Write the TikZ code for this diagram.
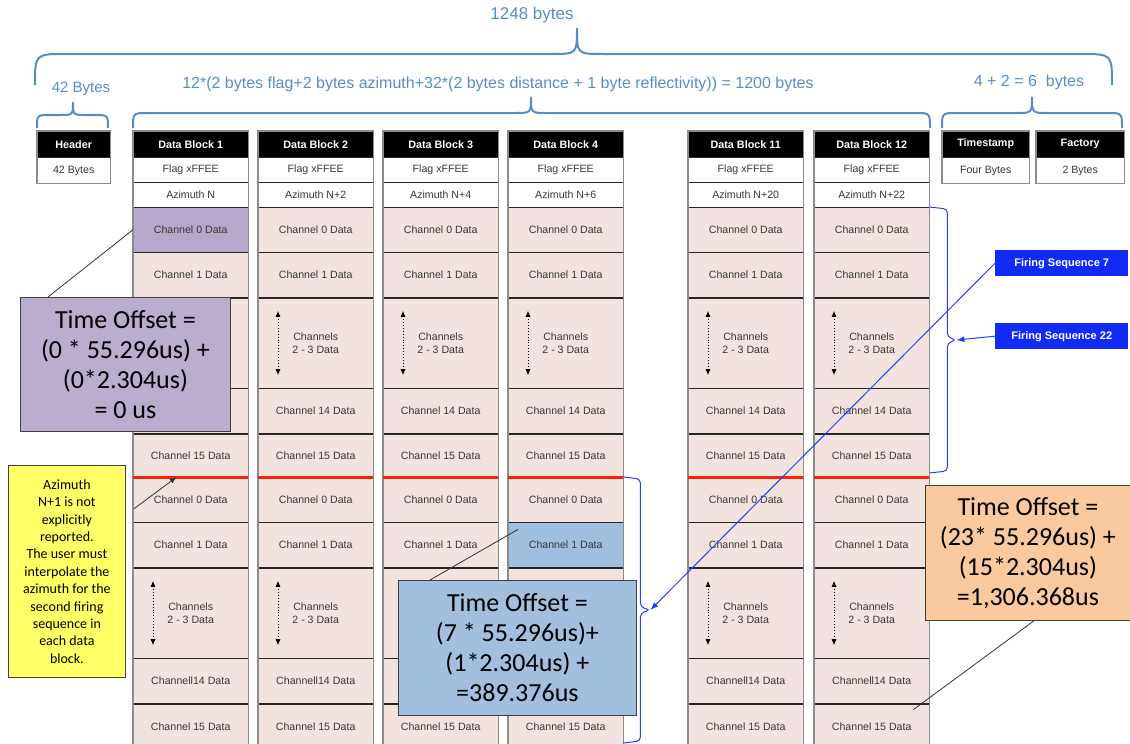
\documentclass[tikz,border=0pt]{standalone}
\usepackage{fontspec}
\setmainfont{Liberation Sans}
\newfontfamily\calfont{Carlito}
\usetikzlibrary{positioning,calc,arrows.meta}
\definecolor{cellpink}{RGB}{242,227,222}
\definecolor{purplecell}{RGB}{181,168,202}
\definecolor{purplebox}{RGB}{186,173,206}
\definecolor{bluecell}{RGB}{160,190,222}
\definecolor{bluebox}{RGB}{162,191,222}
\definecolor{orangebox}{RGB}{250,201,158}
\definecolor{notey}{RGB}{255,255,102}
\definecolor{fsblue}{RGB}{18,42,245}
\definecolor{bytecol}{RGB}{88,140,200}
\definecolor{sepred}{RGB}{255,32,0}
\definecolor{seqcol}{RGB}{40,62,255}
% curly brace over a byte range: x left, x right, x tip, y ends, y line, y tip
\newcommand\bytebrace[6]{\draw[bytebr] (#1,#4) .. controls (#1,#5) .. ({#1+#4-#5},#5) -- ({#3-(#5-#6)},#5) .. controls (#3,#5) .. (#3,#6) .. controls (#3,#5) .. ({#3+(#5-#6)},#5) -- ({#2-(#4-#5)},#5) .. controls (#2,#5) .. (#2,#4);}
\begin{document}
\begin{tikzpicture}[x=1pt, y=-1pt,
  blockhead/.style={draw=black, fill=black, text=white, font=\fontsize{10.8}{12}\selectfont\bfseries, minimum width=115pt, minimum height=26pt, inner sep=0pt, anchor=north west},
  blockrow/.style={draw=black!85, fill=white, text=black!78, font=\fontsize{10.6}{12}\selectfont, minimum width=115pt, minimum height=25pt, inner sep=0pt, anchor=north west},
  chan/.style={blockrow, fill=cellpink, minimum height=45pt, align=center, font=\fontsize{10.6}{13}\selectfont},
  colframe/.style={draw=black!45, line width=1.2pt},
  sepline/.style={draw=sepred, line width=3pt},
  dotarrow/.style={dotted, line width=0.9pt, {Latex[length=6pt,width=5pt]}-{Latex[length=6pt,width=5pt]}},
  offset/.style={draw=black!75, line width=0.8pt, font=\calfont\fontsize{26}{30}\selectfont, align=center, inner sep=0pt, anchor=north west},
  note/.style={draw=black!75, line width=0.8pt, fill=notey, font=\calfont\fontsize{14}{17.4}\selectfont, align=center, minimum width=117pt, minimum height=212pt, inner sep=0pt, anchor=north west},
  fireseq/.style={fill=fsblue, text=white, font=\fontsize{11}{13}\selectfont\bfseries, minimum width=133pt, minimum height=26pt, inner sep=0pt, anchor=north west},
  callline/.style={draw=black!80, line width=0.8pt},
  seqbrace/.style={draw=seqcol, line width=1pt, rounded corners=4pt},
  seqarrow/.style={draw=seqcol, line width=1pt, -{Latex[length=8pt,width=6pt]}},
  bytebr/.style={draw=bytecol, line width=2pt},
  bytelbl/.style={text=bytecol, font=\fontsize{16}{19}\selectfont}
]
\useasboundingbox (0,0) rectangle (1130,744);

% byte counts on top
\bytebrace{35}{1112}{577}{85}{54}{28}
\bytebrace{37}{108}{73}{128}{115}{102}
\bytebrace{133}{930}{531}{128}{113}{97}
\bytebrace{942}{1122}{1032}{128}{113}{97}
\node[bytelbl, font=\fontsize{17}{19}\selectfont] (total) at (532,15) {1248 bytes};
\node[bytelbl, font=\fontsize{15}{19}\selectfont] (hdrBytes) at (81,89) {42 Bytes};
\node[bytelbl] (dataBytes) at (498,84) {12*(2 bytes flag+2 bytes azimuth+32*(2 bytes distance + 1 byte reflectivity)) = 1200 bytes};
\node[bytelbl] (tailBytes) at (1029,82) {4 + 2 = 6~ bytes};

% header, timestamp, factory
\node[blockhead, minimum width=73pt] (hdr) at (37,131) {Header};
\node[blockrow, minimum width=73pt, minimum height=26pt, below=0pt of hdr] (hdrSize) {42 Bytes};
\node[blockhead, minimum width=87pt] (ts) at (942,131) {Timestamp};
\node[blockrow, minimum width=87pt, minimum height=26pt, below=0pt of ts] (tsSize) {Four Bytes};
\node[blockhead, minimum width=88pt] (fac) at (1036,131) {Factory};
\node[blockrow, minimum width=88pt, minimum height=26pt, below=0pt of fac] (facSize) {2 Bytes};
\draw[colframe] (hdr.north west) rectangle (hdrSize.south east);
\draw[colframe] (ts.north west) rectangle (tsSize.south east);
\draw[colframe] (fac.north west) rectangle (facSize.south east);

% data blocks
\foreach \n/\x/\az/\fa/\fb in {1/133/N/purplecell/cellpink, 2/258/N+2/cellpink/cellpink, 3/383/N+4/cellpink/cellpink, 4/508/N+6/cellpink/bluecell, 11/688/N+20/cellpink/cellpink, 12/814/N+22/cellpink/cellpink} {
  \node[blockhead] (b\n-head) at (\x,131) {Data Block \n};
  \node[blockrow] (b\n-flag) at (\x,157) {Flag xFFEE};
  \node[blockrow] (b\n-az) at (\x,182) {Azimuth \az};
  \node[chan, fill=\fa] (b\n-c0a) at (\x,207) {Channel 0 Data};
  \node[chan, below=0pt of b\n-c0a] (b\n-c1a) {Channel 1 Data};
  \node[chan, minimum height=90pt, below=0pt of b\n-c1a] (b\n-c23a) {Channels\\2 - 3 Data};
  \node[chan, below=0pt of b\n-c23a] (b\n-c14a) {Channel 14 Data};
  \node[chan, minimum height=43pt, below=0pt of b\n-c14a] (b\n-c15a) {Channel 15 Data};
  \node[chan, below=0pt of b\n-c15a] (b\n-c0b) {Channel 0 Data};
  \node[chan, fill=\fb, below=0pt of b\n-c0b] (b\n-c1b) {Channel 1 Data};
  \node[chan, minimum height=90pt, below=0pt of b\n-c1b] (b\n-c23b) {Channels\\2 - 3 Data};
  \node[chan, below=0pt of b\n-c23b] (b\n-c14b) {Channell14 Data};
  \node[chan, below=0pt of b\n-c14b] (b\n-c15b) {Channel 15 Data};
  \draw[dotarrow] ([xshift=20pt, yshift=-13pt]b\n-c23a.north west) -- ([xshift=20pt, yshift=13pt]b\n-c23a.south west);
  \draw[dotarrow] ([xshift=20pt, yshift=-13pt]b\n-c23b.north west) -- ([xshift=20pt, yshift=13pt]b\n-c23b.south west);
  \draw[colframe] (b\n-head.north west) rectangle (b\n-c15b.south east);
  \draw[sepline] (b\n-c15a.south west) -- (b\n-c15a.south east);
}

% firing sequences
\draw[seqbrace] (b12-c0a.north east) -- ++(18,2) -- ++(0,128) -- ++(9,3) coordinate (tip22) -- ++(-9,3) -- ++(0,128) -- ++(-18,2);
\draw[seqbrace] (b4-c0b.north east) -- ++(17,2) -- ++(0,128) -- ++(10,3) coordinate (tip7) -- ++(-10,3) -- ++(0,128) -- ++(-17,2);
\node[fireseq] (fs7) at (995,250) {Firing Sequence 7};
\node[fireseq] (fs22) at (995,323) {Firing Sequence 22};
\draw[seqarrow] (fs22.west) -- (tip22);
\draw[seqarrow] (fs7.west) -- (tip7);

% time offsets
\node[offset, fill=purplebox, minimum width=210pt, minimum height=134pt] (toA) at (20,297) {Time Offset =\\(0 * 55.296us) +\\(0*2.304us)\\= 0 us};
\node[offset, fill=bluebox, minimum width=238pt, minimum height=135pt] (toB) at (398,580) {Time Offset =\\(7 * 55.296us)+\\(1*2.304us) +\\=389.376us};
\node[offset, fill=orangebox, minimum width=205pt, minimum height=135pt] (toC) at (925,485) {Time Offset =\\(23* 55.296us) +\\(15*2.304us)\\=1,306.368us};
\node[note] (azNote) at (8,465) {Azimuth\\N+1 is not\\explicitly\\reported.\\The user must\\interpolate the\\azimuth for the\\second firing\\sequence in\\each data\\block.};
\draw[callline] ([xshift=28pt]toA.north west) -- (b1-c0a.west);
\draw[callline] ([xshift=32pt]toB.north west) -- ($(b4-c1b.north west)+(10,7)$);
\draw[callline] ([xshift=6pt]toC.south) -- ($(b12-c15b.north east)+(-16,6)$);
\draw[callline, -{Latex[length=7pt,width=5pt]}] ($(b1-c0b.west)+(1,9)$) -- ($(b1-c0b.north)+(-14,0)$);
\end{tikzpicture}
\end{document}
